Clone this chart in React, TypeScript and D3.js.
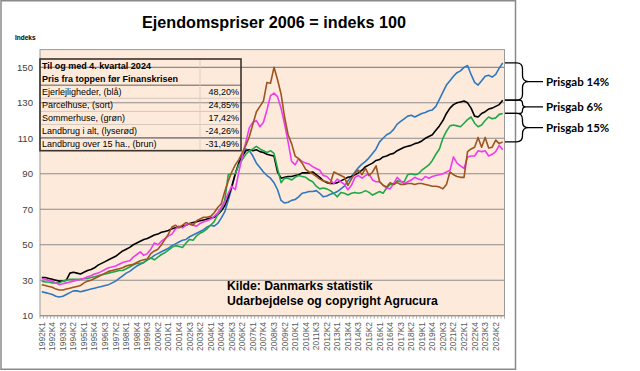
import React from "react";
import * as d3 from "d3";

const years = d3.range(1992, 2025);
const categories: string[] = years.flatMap((yr) => [1, 2, 3, 4].map((q) => `${yr}K${q}`));

// Ejerlejligheder (blå)
const blue = [
  23.5, 23, 22.5, 22, 21, 20.5, 21, 22, 23, 24, 24, 23.5, 24, 24.5, 25, 25.5,
  26, 26.5, 27, 27.5, 28.5, 29.5, 31, 32.5, 34, 35, 36.5, 38, 39, 40, 41.5, 42.5,
  44, 45, 46, 47, 48, 49.5, 50.5, 51.5, 52.5, 53, 54.5, 55.5, 56.5, 57.5, 58.5, 60,
  61, 60.5, 62, 65, 68.5, 75, 82, 90, 96, 100.5, 104, 103, 100, 96, 93.5, 91,
  89, 87.5, 85, 81, 75, 73.5, 74, 75, 75.5, 77, 79, 79.5, 80, 80, 80.5, 79,
  77, 77.5, 78.5, 79, 80, 81.5, 83, 86, 88.5, 91, 93.5, 95.5, 97, 99, 101.5, 104,
  108, 110, 112, 113, 115, 118, 119.5, 121, 122.5, 123, 122, 123, 124, 124.5, 125.5, 126,
  128, 132, 136, 140, 142.5, 145, 147, 148, 150, 151, 146, 141.5, 140, 142.5, 145, 145.5,
  144.5, 146, 149.5, 152.5,
];
// Parcelhuse (sort)
const black = [
  31.5, 31.5, 31, 30.5, 30, 29.5, 29.5, 30, 34, 34.5, 34, 33.5, 34.5, 35.5, 36, 37,
  38.5, 39.5, 40.5, 41.5, 42.5, 43.5, 45, 46.5, 47.5, 48.5, 50, 51, 52, 53, 53.5, 54.5,
  55.5, 56, 57, 57.5, 58, 59, 59.5, 60, 60.5, 61, 62, 62.5, 63, 63.5, 64, 64.5,
  65, 65.5, 67, 69, 72, 77, 83, 90, 96, 100, 103, 103.5, 103, 103.5, 102.5, 102,
  101, 100.5, 100, 91, 87.5, 88, 88.5, 88.5, 89, 89.5, 90.5, 90.5, 90.5, 91, 89.5, 88,
  86, 85, 84.5, 84.5, 85, 86, 87, 88, 88.5, 89.5, 90.5, 92, 94, 95, 96, 97.5,
  98, 99.5, 100, 101, 101.5, 103, 104, 105, 105.5, 106, 107, 107.5, 108.5, 110, 111, 112,
  114.5, 117, 120, 124, 127, 129, 130, 130.5, 131, 130, 127, 122.5, 122, 124, 125, 126.5,
  127, 128, 129, 131.5,
];
// Sommerhuse (grøn)
const green = [
  29.5, 29, 29, 28.5, 28.5, 28.5, 29.5, 30, 30.5, 30.5, 30.5, 30.5, 31, 31, 31.5, 32,
  32.5, 33, 33.5, 34, 34.5, 35, 35.5, 35.5, 36.5, 37.5, 38.5, 39.5, 39.5, 40, 41.5, 42.5,
  41.5, 43, 44.5, 45.5, 47, 48.5, 49.5, 49, 48.5, 51, 53, 52.5, 55, 56.5, 57.5, 59,
  61, 63, 67, 70, 75, 89.5, 90, 90, 95, 98, 101, 103, 104, 105.5, 104, 103,
  102, 103, 101.5, 93, 85, 87.5, 87.5, 86.5, 88, 89, 88.5, 88, 86.5, 85.5, 83, 81.5,
  82, 81.5, 80.5, 79, 77, 79.5, 79, 78, 79, 79.5, 79, 79.5, 80.5, 79.5, 78, 79,
  80, 79, 82, 84, 84.5, 86, 85.5, 85.5, 89.5, 90, 89.5, 90, 92, 93.5, 95, 97.5,
  101, 104, 110, 114, 117, 117.5, 117, 116.5, 118.5, 120.5, 122, 118.5, 116.5, 117.5, 120, 122,
  121, 121.5, 123.5, 124,
];
// Landbrug i alt (lyserød)
const pink = [
  31, 30.5, 30, 29.5, 28.5, 27.5, 28, 28.5, 29, 29.5, 30, 30.5, 31, 32, 32.5, 33.5,
  34, 35, 36, 37, 37.5, 38, 39, 40, 40.5, 41, 43, 44.5, 46, 44, 45, 47.5,
  51, 50, 52, 53.5, 55, 56, 59, 60.5, 59.5, 61, 62, 61, 60.5, 62, 63, 63.5,
  64.5, 66, 68, 71, 74, 79, 83, 81, 91, 100, 108, 116, 119, 120, 116.5, 119,
  126, 134, 135.5, 133.5, 127, 118, 108, 97, 95, 98.5, 97, 96, 95.5, 94, 93, 92,
  89, 88.5, 86.5, 84.5, 87, 85.5, 84, 81, 83.5, 88, 89, 87.5, 89, 90, 86.5, 85.5,
  85.5, 83.5, 82, 81.5, 84.5, 88, 86, 84.5, 85.5, 86.5, 88, 87, 86.5, 88.5, 87.5, 88.5,
  89, 89.5, 90, 91, 92, 99.5, 96, 94.5, 93, 99.5, 100, 100, 103, 102.5, 103, 100,
  101, 102.5, 106, 103.5,
];
// Landbrug over 15 ha. (brun)
const brown = [
  27.5, 27, 26.5, 26, 25, 24.5, 24.5, 25, 25.5, 26, 26.5, 27, 28.5, 29.5, 30, 31,
  32, 33, 34, 35, 35.5, 36, 36.5, 37, 38, 38.5, 39, 40, 41, 41.5, 42, 45,
  46.5, 47.5, 50, 53, 56, 60, 61, 59.5, 61, 62.5, 61.5, 61, 63.5, 64.5, 65.5, 65.5,
  66, 68, 71, 73, 80, 86, 91, 95, 98, 102, 106, 111, 118, 125, 128, 131,
  141.5, 141, 150, 143, 135, 122, 112, 107, 100, 98.5, 96, 92.5, 91, 90, 88.5, 87,
  86, 85.5, 84.5, 91, 90, 89, 88, 83.5, 87, 90.5, 92, 89.5, 93, 89, 91, 94.5,
  85.5, 83.5, 82.5, 85, 84, 85, 84, 84, 84.5, 84.5, 84, 84.5, 84.5, 84, 83.5, 83,
  83, 82.5, 81.5, 84, 91, 89.5, 88.5, 88, 88, 102.5, 104, 105, 110.5, 105, 110.5, 104.5,
  105, 109, 107, 108,
];

const seriesList = [
  { name: "Ejerlejligheder", values: blue, color: "#2F78C0" },
  { name: "Parcelhuse", values: black, color: "#000000" },
  { name: "Sommerhuse", values: green, color: "#1FA84A" },
  { name: "Landbrug i alt", values: pink, color: "#F03CF0" },
  { name: "Landbrug over 15 ha.", values: brown, color: "#9C5420" },
];

const yTicks = [10, 30, 50, 70, 90, 110, 130, 150];

const tableHead = ["Til og med 4. kvartal 2024", "Pris fra toppen før Finanskrisen"];
const tableLabels = [
  "Ejerlejligheder, (blå)",
  "Parcelhuse, (sort)",
  "Sommerhuse, (grøn)",
  "Landbrug i alt, (lyserød)",
  "Landbrug over 15 ha., (brun)",
];
const tableValues = ["48,20%", "24,85%", "17,42%", "-24,26%", "-31,49%"];

const gapLabels = ["Prisgab 14%", "Prisgab 6%", "Prisgab 15%"];

const FONT = "'Liberation Sans', Arial, sans-serif";

export default function App() {
  const W = 640;
  const H = 371;
  const left = 40;
  const right = 504.5;
  const top = 49.6;
  const bottom = 315.7;

  const x = d3.scaleBand<string>().domain(categories).range([left, right]).padding(0);
  const bw = x.bandwidth();
  const cx = (i: number) => (x(categories[i]) as number) + bw / 2;
  const y = d3.scaleLinear().domain([10, 160]).range([bottom, top]);

  const line = d3
    .line<number>()
    .x((_, i) => cx(i))
    .y((d) => y(d));

  // table geometry
  const tX0 = 40;
  const tX1 = 241;
  const tY0 = 59;
  const rowH = 13.1;
  const colX = 200;

  const lastVal = (arr: number[]) => arr[arr.length - 1];
  const braces = [
    [lastVal(blue), lastVal(black)],
    [lastVal(black), lastVal(green)],
    [lastVal(green), lastVal(brown)],
  ];

  const bracePath = (y1: number, y2: number) => {
    const xs = 522.5;
    const x0 = 505;
    const ym = (y1 + y2) / 2;
    const r = Math.min(6, (y2 - y1) / 4);
    return (
      `M${x0},${y1} H${xs - r} Q${xs},${y1} ${xs},${y1 + r} V${ym - r} Q${xs},${ym} ${xs + r},${ym} H543 ` +
      `M${xs + r},${ym} Q${xs},${ym} ${xs},${ym + r} V${y2 - r} Q${xs},${y2} ${xs - r},${y2} H${x0}`
    );
  };

  return (
    <svg
      width={W}
      height={H}
      style={{ position: "absolute", left: 0, top: 0, background: "#fff" }}
      fontFamily={FONT}
    >
      <rect x={0} y={0} width={W} height={H} fill="#fff" />
      {/* outer chart frame */}
      <rect x={1} y={0.75} width={514.5} height={368.5} fill="none" stroke="#8a8a8a" strokeWidth={1.5} />

      {/* title */}
      <text x={274} y={28} textAnchor="middle" fontSize={16.2} fontWeight="bold" fill="#000">
        Ejendomspriser 2006 = indeks 100
      </text>
      <text x={15} y={40} fontSize={6.5} fontWeight="bold" fill="#000">
        Indeks
      </text>

      {/* plot area */}
      <rect x={left} y={top} width={right - left} height={bottom - top} fill="#FDEADB" stroke="#9a9a9a" strokeWidth={1} />
      {yTicks.map((t) => (
        <g key={t}>
          <line x1={left} x2={right} y1={y(t)} y2={y(t)} stroke="#8c8c8c" strokeWidth={1.1} />
          <text x={33} y={y(t)} dy="0.35em" textAnchor="end" fontSize={9.6} fill="#404040">
            {t}
          </text>
        </g>
      ))}

      {/* x axis ticks */}
      {categories.map((c, i) => (
        <line
          key={c}
          x1={x(c) as number}
          x2={x(c) as number}
          y1={bottom}
          y2={bottom + 3}
          stroke="#9a9a9a"
          strokeWidth={0.8}
        />
      ))}
      <line x1={right} x2={right} y1={bottom} y2={bottom + 3} stroke="#9a9a9a" strokeWidth={0.8} />
      {categories.map((c, i) =>
        i % 3 === 0 ? (
          <text
            key={"l" + c}
            transform={`translate(${cx(i)},${322}) rotate(-90)`}
            dy="0.35em"
            textAnchor="end"
            fontSize={8.4}
            fill="#595959"
          >
            {c}
          </text>
        ) : null
      )}

      {/* table (transparent, Excel cells) */}
      <g>
        {[2, 3, 4, 5, 6].map((r) => (
          <line key={"tr" + r} x1={tX0} x2={tX1} y1={tY0 + rowH * r} y2={tY0 + rowH * r} stroke="#cbbfb3" strokeWidth={0.8} />
        ))}
        <line x1={tX0} x2={tX1} y1={tY0 + rowH * 2} y2={tY0 + rowH * 2} stroke="#6b6158" strokeWidth={0.9} />
        <line x1={colX} x2={colX} y1={tY0} y2={tY0 + rowH * 7} stroke="#d6cabe" strokeWidth={0.8} />
        <line x1={tX0} x2={tX1} y1={tY0 + rowH * 6} y2={tY0 + rowH * 6} stroke="#7a7066" strokeWidth={0.8} />
        <rect x={tX0} y={tY0} width={tX1 - tX0} height={rowH * 7} fill="none" stroke="#3a342e" strokeWidth={1.6} />
        {tableHead.map((t, r) => (
          <text key={t} x={42} y={tY0 + rowH * (r + 0.5)} dy="0.35em" fontSize={9} fontWeight="bold" fill="#000">
            {t}
          </text>
        ))}
        {tableLabels.map((t, r) => (
          <g key={t}>
            <text x={42} y={tY0 + rowH * (r + 2.5)} dy="0.35em" fontSize={9} fill="#000">
              {t}
            </text>
            <text x={239} y={tY0 + rowH * (r + 2.5)} dy="0.35em" fontSize={9} textAnchor="end" fill="#000">
              {tableValues[r]}
            </text>
          </g>
        ))}
      </g>

      {/* series */}
      <g clipPath="none">
        {seriesList.map((s) => (
          <path key={s.name} d={line(s.values) || ""} fill="none" stroke={s.color} strokeWidth={1.6} strokeLinejoin="round" />
        ))}
      </g>

      {/* source */}
      <text x={227} y={290} fontSize={12.2} fontWeight="bold" fill="#000">
        Kilde: Danmarks statistik
      </text>
      <text x={227} y={304.5} fontSize={12.2} fontWeight="bold" fill="#000">
        Udarbejdelse og copyright Agrucura
      </text>

      {/* braces */}
      {braces.map(([a, b], k) => {
        const y1 = y(a);
        const y2 = y(b);
        const ym = (y1 + y2) / 2;
        return (
          <g key={"b" + k}>
            <path d={bracePath(y1, y2)} fill="none" stroke="#000" strokeWidth={1.3} />
            <text x={546} y={ym} dy="0.35em" fontSize={11.5} fontWeight="bold" fontFamily="Lato, 'Open Sans', sans-serif" fill="#000">
              {gapLabels[k]}
            </text>
          </g>
        );
      })}
    </svg>
  );
}
